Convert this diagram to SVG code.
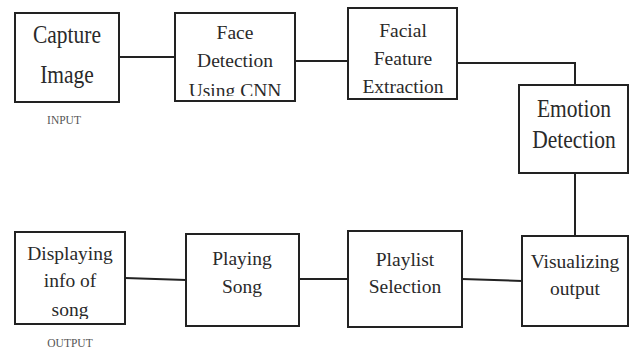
<svg xmlns="http://www.w3.org/2000/svg" width="630" height="349" viewBox="0 0 630 349">
<style>
.box{fill:#fff;stroke:#222;stroke-width:2}
text{font-family:'Liberation Serif','Times New Roman',Times,serif}
.t{font-size:19.5px;fill:#2a2a2a;text-anchor:middle}
.tb{font-size:21.5px;fill:#2a2a2a;text-anchor:middle}
.lbl{font-size:11.5px;fill:#555;text-anchor:middle}
.c{fill:none;stroke:#222;stroke-width:2}
</style>
<defs>
<clipPath id="clipFace"><rect x="175" y="13" width="120" height="83"/></clipPath>
<clipPath id="clipDisp"><rect x="15" y="232" width="110" height="87"/></clipPath>
</defs>
<rect width="630" height="349" fill="#fff"/>
<g id="connectors">
<path class="c" d="M119 57H175"/>
<path class="c" d="M295 61H348"/>
<path class="c" d="M457 63H575V85"/>
<path class="c" d="M575 173V236"/>
<path class="c" d="M462 279L522 281"/>
<path class="c" d="M299 279H348"/>
<path class="c" d="M125 278L186 280"/>
</g>
<g id="capture">
<rect class="box" x="15" y="13" width="104" height="89"/>
<text class="tb" transform="translate(67,43) scale(1,1.15)">Capture</text>
<text class="tb" transform="translate(67,83) scale(1,1.15)">Image</text>
<text class="lbl" x="64" y="124">INPUT</text>
</g>
<g id="face">
<rect class="box" x="175" y="13" width="120" height="88"/>
<g clip-path="url(#clipFace)">
<text class="t" x="235" y="39">Face</text>
<text class="t" x="235" y="67">Detection</text>
<text class="t" x="235" y="97">Using CNN</text>
</g>
</g>
<g id="facial">
<rect class="box" x="348" y="8" width="109" height="91"/>
<text class="t" x="403" y="37">Facial</text>
<text class="t" x="403" y="65">Feature</text>
<text class="t" x="403" y="93">Extraction</text>
</g>
<g id="emotion">
<rect class="box" x="519" y="85" width="109" height="88"/>
<text class="tb" transform="translate(574,117) scale(1,1.15)">Emotion</text>
<text class="tb" transform="translate(574,148) scale(1,1.15)">Detection</text>
</g>
<g id="visualizing">
<rect class="box" x="522" y="236" width="106" height="90"/>
<text class="t" x="575" y="268">Visualizing</text>
<text class="t" x="575" y="295">output</text>
</g>
<g id="playlist">
<rect class="box" x="348" y="231" width="114" height="96"/>
<text class="t" x="405" y="266">Playlist</text>
<text class="t" x="405" y="293">Selection</text>
</g>
<g id="playing">
<rect class="box" x="186" y="234" width="113" height="92"/>
<text class="t" x="242" y="265">Playing</text>
<text class="t" x="242" y="293">Song</text>
</g>
<g id="displaying">
<rect class="box" x="15" y="232" width="110" height="92"/>
<g clip-path="url(#clipDisp)">
<text class="t" x="70" y="260">Displaying</text>
<text class="t" x="70" y="287">info of</text>
<text class="t" x="70" y="316">song</text>
</g>
<text class="lbl" x="70" y="347">OUTPUT</text>
</g>
</svg>
